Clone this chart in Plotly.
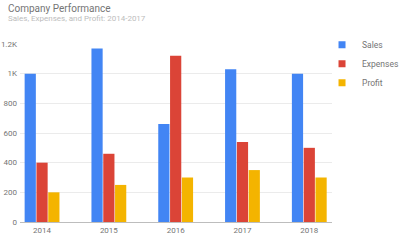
import plotly.graph_objects as go

years = ["2014", "2015", "2016", "2017", "2018"]
sales = [1000, 1170, 660, 1030, 1000]
expenses = [400, 460, 1120, 540, 500]
profit = [200, 250, 300, 350, 300]
tick_vals = [0, 200, 400, 600, 800, 1000, 1200]
tick_text = ["0", "200", "400", "600", "800", "1K", "1.2K"]

colors = {"Sales": "#4285f4", "Expenses": "#db4437", "Profit": "#f4b400"}

fig = go.Figure()
for name, vals in [("Sales", sales), ("Expenses", expenses), ("Profit", profit)]:
    fig.add_trace(go.Bar(x=years, y=vals, name=name, marker_color=colors[name],
                         marker_line_width=0, showlegend=False))
# legend-only entries with small square swatches
for name in ["Sales", "Expenses", "Profit"]:
    fig.add_trace(go.Scatter(x=[None], y=[None], mode="markers", name=name,
                             marker=dict(symbol="square", size=7, color=colors[name])))

fig.update_layout(
    width=400, height=240,
    margin=dict(l=20, r=68, t=44, b=18, autoexpand=False),
    paper_bgcolor="white", plot_bgcolor="white",
    font=dict(family="Roboto, Arial, sans-serif", color="#757575"),
    barmode="group", bargap=0.47, bargroupgap=0.05,
    showlegend=True,
    legend=dict(x=0.968, y=1.077, xanchor="left", yanchor="top",
                font=dict(size=8.5, color="#757575"), itemwidth=30,
                tracegroupgap=0, bgcolor="rgba(0,0,0,0)"),
    annotations=[
        dict(text="Company Performance", x=0, y=1, xref="paper", yref="paper",
             xanchor="left", yanchor="top", showarrow=False,
             font=dict(size=10, color="#757575"), xshift=-14, yshift=43),
        dict(text="Sales, Expenses, and Profit: 2014-2017", x=0, y=1, xref="paper", yref="paper",
             xanchor="left", yanchor="top", showarrow=False,
             font=dict(size=8, color="#bdbdbd"), xshift=-14, yshift=32),
    ],
)
fig.update_xaxes(range=[-0.33, 4.34], showgrid=False, showline=True, linecolor="#bdbdbd",
                 linewidth=1, ticks="", tickfont=dict(size=8, color="#757575"), automargin=False)
fig.update_yaxes(range=[0, 1200], tickvals=tick_vals, ticktext=tick_text, showgrid=True,
                 gridcolor="#ebebeb", zeroline=False, showline=False, automargin=False,
                 tickfont=dict(size=8, color="#757575"), ticklabelstandoff=2)

fig.write_html("out.html")
